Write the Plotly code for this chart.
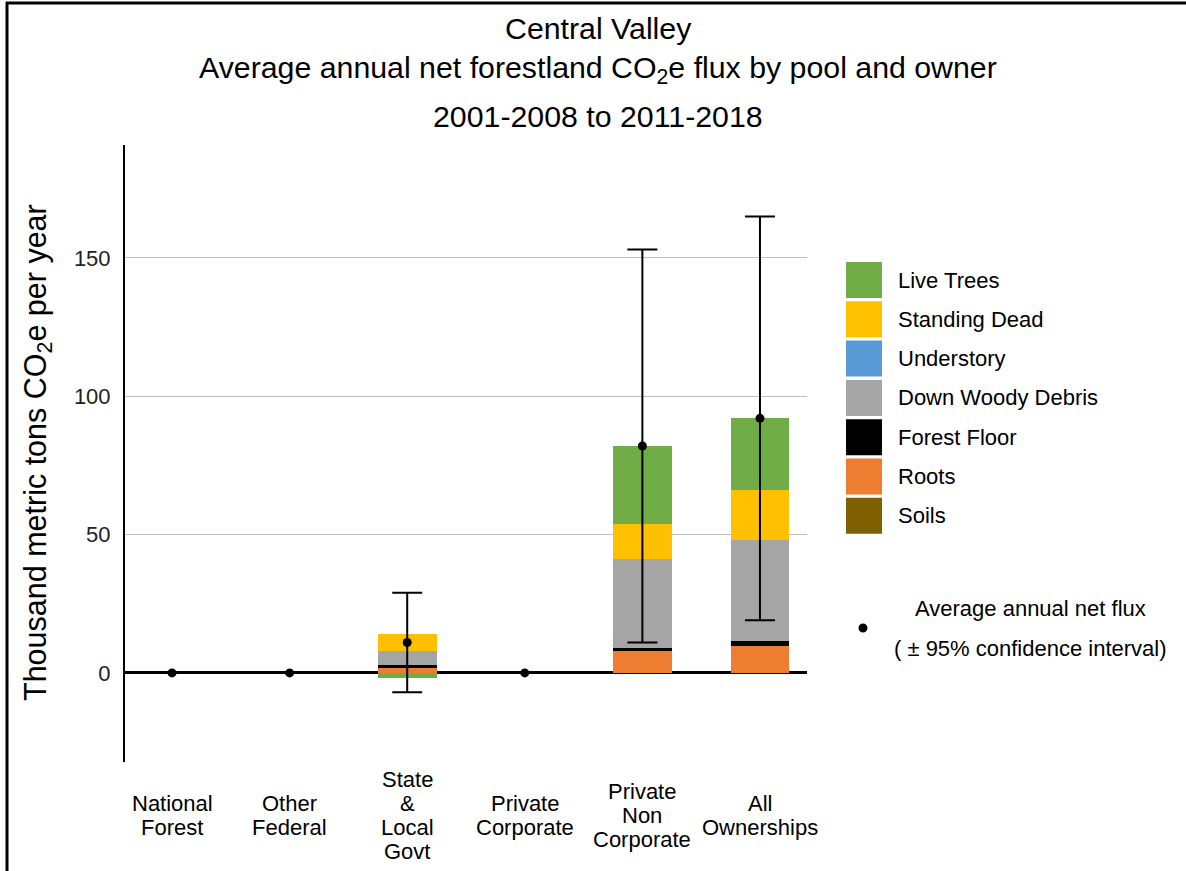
import plotly.graph_objects as go

# ---------------- data ----------------
categories = ["National Forest", "Other Federal", "State & Local Govt",
              "Private Corporate", "Private Non Corporate", "All Ownerships"]
cat_labels = [["National", "Forest"], ["Other", "Federal"], ["State", "&", "Local", "Govt"],
              ["Private", "Corporate"], ["Private", "Non", "Corporate"], ["All", "Ownerships"]]

pools = ["Live Trees", "Standing Dead", "Understory", "Down Woody Debris",
         "Forest Floor", "Roots", "Soils"]
pool_colors = ["#70AD47", "#FFC000", "#5B9BD5", "#A5A5A5", "#000000", "#ED7D31", "#7F6000"]

live_trees     = [0, 0, -2.0, 0, 28.0, 26.0]
standing_dead  = [0, 0, 6.0, 0, 13.0, 18.0]
understory     = [0, 0, 0, 0, 0, 0]
down_woody     = [0, 0, 5.1, 0, 32.1, 36.3]
forest_floor   = [0, 0, 1.3, 0, 1.0, 1.9]
roots          = [0, 0, 1.6, 0, 7.9, 9.8]
soils          = [0, 0, 0, 0, 0, 0]

net_flux = [0, 0, 11, 0, 82, 92]
ci_upper = [0, 0, 29, 0, 153, 165]
ci_lower = [0, 0, -7, 0, 11, 19]

y_ticks = [0, 50, 100, 150]

pool_values = [live_trees, standing_dead, understory, down_woody, forest_floor, roots, soils]

# ---------------- layout geometry (pixels) ----------------
W, H = 1186, 871
L, R, T, B = 125, 379, 145, 109
PW, PH = W - L - R, H - T - B

def px(x):
    return (x - L) / PW

def py(y):
    return (H - B - y) / PH

FONT = "Liberation Sans, Arial, sans-serif"

fig = go.Figure()
xs = list(range(len(categories)))

# stacked bars bottom-up: Soils, Roots, Forest Floor, DWD, Understory, Standing Dead, Live Trees
for name, vals, col in reversed(list(zip(pools, pool_values, pool_colors))):
    fig.add_trace(go.Bar(x=xs, y=vals, name=name, marker=dict(color=col, line=dict(width=0)),
                         width=0.5, showlegend=False, hoverinfo="name+y"))

fig.add_trace(go.Scatter(
    x=xs, y=net_flux, mode="markers", showlegend=False,
    marker=dict(color="black", size=9),
    error_y=dict(type="data", symmetric=False,
                 array=[u - n for u, n in zip(ci_upper, net_flux)],
                 arrayminus=[n - l for n, l in zip(net_flux, ci_lower)],
                 color="black", thickness=2, width=15),
))

fig.update_layout(
    width=W, height=H,
    margin=dict(l=L, r=R, t=T, b=B, autoexpand=False),
    plot_bgcolor="white", paper_bgcolor="white",
    barmode="relative", bargap=0,
    font=dict(family=FONT, color="black"),
    showlegend=False,
)
fig.update_xaxes(range=[-0.4, 5.4], showticklabels=False, showgrid=False, zeroline=False,
                 showline=False, ticks="", fixedrange=True)
fig.update_yaxes(range=[-32.2, 190.8], tickvals=y_ticks, ticktext=[str(v) for v in y_ticks],
                 tickfont=dict(size=22, color="#222222", family=FONT),
                 showgrid=True, gridcolor="#BFBFBF", gridwidth=1,
                 zeroline=True, zerolinecolor="black", zerolinewidth=3,
                 showline=True, linecolor="black", linewidth=2,
                 ticks="outside", ticklen=8, tickcolor="rgba(0,0,0,0)")

ann = []
# titles
for text, y in [("Central Valley", 28), ("Average annual net forestland CO<sub>2</sub>e flux by pool and owner", 70),
                ("2001-2008 to 2011-2018", 117)]:
    ann.append(dict(text=text, x=px(598), y=py(y), xref="paper", yref="paper", showarrow=False,
                    xanchor="center", yanchor="middle", font=dict(size=30.3, family=FONT, color="black")))

# y axis title
ann.append(dict(text="Thousand metric tons CO<sub>2</sub>e per year", x=px(37), y=py(453),
                xref="paper", yref="paper", showarrow=False, textangle=-90,
                xanchor="center", yanchor="middle", font=dict(size=30.5, family=FONT, color="black")))

# category labels
for i, lines in enumerate(cat_labels):
    n = len(lines)
    for j, line in enumerate(lines):
        yc = 815 + (j - (n - 1) / 2) * 24
        ann.append(dict(text=line, x=i, y=py(yc), xref="x", yref="paper", showarrow=False,
                        xanchor="center", yanchor="middle", font=dict(size=22, family=FONT, color="black")))

shapes = []
# legend
for k, (name, col) in enumerate(zip(pools, pool_colors)):
    top = 262 + k * 39.3
    shapes.append(dict(type="rect", xref="paper", yref="paper",
                       x0=px(846), x1=px(882), y0=py(top), y1=py(top + 36),
                       fillcolor=col, line=dict(width=0)))
    ann.append(dict(text=name, x=px(896), y=py(top + 18), xref="paper", yref="paper", showarrow=False,
                    xanchor="left", yanchor="middle", font=dict(size=22, family=FONT, color="black")))

# dot legend
shapes.append(dict(type="circle", xref="paper", yref="paper",
                   x0=px(858.5), x1=px(867.5), y0=py(623.5), y1=py(632.5),
                   fillcolor="black", line=dict(width=0)))
ann.append(dict(text="Average annual net flux", x=px(1030), y=py(608), xref="paper", yref="paper",
                showarrow=False, xanchor="center", yanchor="middle",
                font=dict(size=22, family=FONT, color="black")))
ann.append(dict(text="( ± 95% confidence interval)", x=px(1030), y=py(648), xref="paper", yref="paper",
                showarrow=False, xanchor="center", yanchor="middle",
                font=dict(size=22, family=FONT, color="black")))

# outer frame (left and top borders)
shapes.append(dict(type="line", xref="paper", yref="paper", x0=px(7), x1=px(7), y0=py(2), y1=py(H),
                   line=dict(color="black", width=3)))
shapes.append(dict(type="line", xref="paper", yref="paper", x0=px(6), x1=px(W), y0=py(3), y1=py(3),
                   line=dict(color="black", width=3)))

fig.update_layout(annotations=ann, shapes=shapes)

fig.write_html("out.html", config={"displayModeBar": False},
               post_script="document.body.style.margin='0';document.body.style.overflow='hidden';")
